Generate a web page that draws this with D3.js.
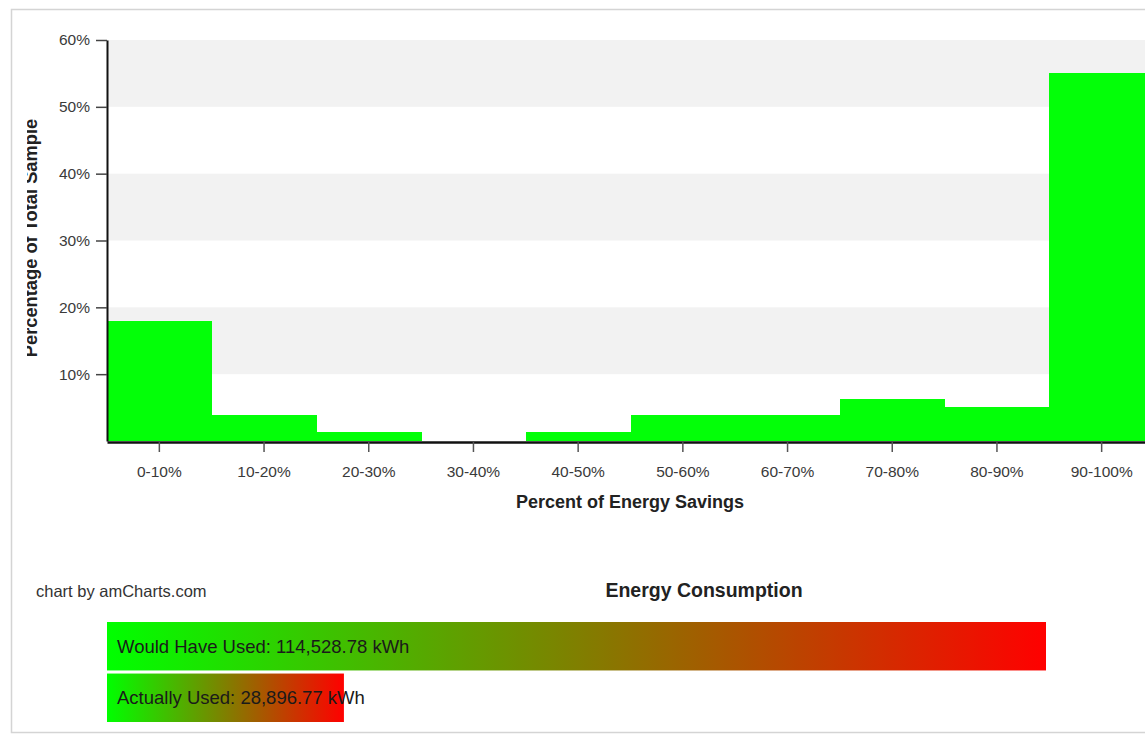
<!DOCTYPE html>
<html>
<head>
<meta charset="utf-8">
<script src="https://cdn.jsdelivr.net/npm/d3@7"></script>
<style>
  html, body { margin: 0; padding: 0; background: #fff; overflow: hidden; }
  svg { display: block; font-family: "Liberation Sans", Arial, sans-serif; }
</style>
</head>
<body>
<svg id="chart" width="1145" height="735"></svg>
<script>
// ---- data ----
const categories = ["0-10%", "10-20%", "20-30%", "30-40%", "40-50%", "50-60%", "60-70%", "70-80%", "80-90%", "90-100%"];
const sharePct = [17.9, 3.85, 1.28, 0, 1.28, 3.85, 3.85, 6.3, 5.13, 55.0];
const yTickValues = [10, 20, 30, 40, 50, 60];
const energyLabels = ["Would Have Used", "Actually Used"];
const energyKWh = [114528.78, 28896.77];

// ---- layout ----
const svg = d3.select("#chart");
const plot = { left: 107, right: 1154, top: 40, bottom: 441 };

const x = d3.scaleBand().domain(categories).range([plot.left, plot.right]).padding(0);
const y = d3.scaleLinear().domain([0, 60]).range([plot.bottom, plot.top]);

// frame
svg.append("rect").attr("x", 11.5).attr("y", 9.5).attr("width", 1200).attr("height", 723)
  .attr("fill", "none").attr("stroke", "#d4d4d4").attr("stroke-width", 1.5);

// alternating bands
svg.append("g").selectAll("rect").data(yTickValues.filter((d, i) => i % 2 === 0))
  .join("rect")
  .attr("x", plot.left).attr("width", plot.right - plot.left)
  .attr("y", d => y(d + 10)).attr("height", d => y(d) - y(d + 10))
  .attr("fill", "#f2f2f2");

// bars
svg.append("g").attr("shape-rendering", "crispEdges").selectAll("rect").data(categories)
  .join("rect")
  .attr("x", d => x(d)).attr("width", x.bandwidth() + 0.6)
  .attr("y", (d, i) => y(sharePct[i])).attr("height", (d, i) => y(0) - y(sharePct[i]))
  .attr("fill", "#03ff08");

// y axis
const yAxis = svg.append("g").attr("transform", `translate(${plot.left},0)`)
  .call(d3.axisLeft(y).tickValues(yTickValues).tickFormat(d => d + "%").tickSize(11).tickSizeOuter(0).tickPadding(6));
yAxis.select(".domain").attr("stroke", "#111").attr("stroke-width", 2);
yAxis.selectAll(".tick line").attr("stroke", "#444").attr("stroke-width", 1.5);
yAxis.selectAll(".tick text").attr("fill", "#3a3a3a").attr("font-size", 15.5)
  .attr("font-family", "'Liberation Sans', Arial, sans-serif").attr("dy", "0.32em");

// x axis
const xAxis = svg.append("g").attr("transform", `translate(0,${plot.bottom + 1})`)
  .call(d3.axisBottom(x).tickSize(10).tickSizeOuter(0).tickPadding(14));
xAxis.select(".domain").attr("stroke", "#111").attr("stroke-width", 2.5);
xAxis.selectAll(".tick line").attr("stroke", "#555").attr("stroke-width", 1.5);
xAxis.selectAll(".tick text").attr("fill", "#3a3a3a").attr("font-size", 15.5)
  .attr("font-family", "'Liberation Sans', Arial, sans-serif");

// axis titles
svg.append("text").attr("x", 630).attr("y", 508).attr("text-anchor", "middle")
  .attr("font-weight", "bold").attr("font-size", 18).attr("fill", "#222")
  .text("Percent of Energy Savings");

svg.append("clipPath").attr("id", "yclip").append("rect")
  .attr("x", 27).attr("y", 0).attr("width", 80).attr("height", 735);
svg.append("g").attr("clip-path", "url(#yclip)")
  .append("text").attr("transform", "translate(37,238) rotate(-90)")
  .attr("text-anchor", "middle").attr("font-weight", "bold").attr("font-size", 18.3).attr("fill", "#222")
  .text("Percentage of Total Sample");

// credit + title
svg.append("text").attr("x", 36).attr("y", 597).attr("font-size", 16.5).attr("fill", "#333")
  .text("chart by amCharts.com");
svg.append("text").attr("x", 704).attr("y", 597).attr("text-anchor", "middle")
  .attr("font-weight", "bold").attr("font-size", 19.5).attr("fill", "#222")
  .text("Energy Consumption");

// energy consumption bars
const ex = d3.scaleLinear().domain([0, energyKWh[0]]).range([0, 939]);
const ey = d3.scaleBand().domain(energyLabels).range([622, 722]).paddingInner(0.06);

const defs = svg.append("defs");
const grad = defs.append("linearGradient").attr("id", "gr").attr("x1", "0").attr("x2", "1").attr("y1", "0").attr("y2", "0");
grad.append("stop").attr("offset", "0").attr("stop-color", "#00ff00");
grad.append("stop").attr("offset", "1").attr("stop-color", "#ff0000");

const fmt = d3.format(",.2f");
const eg = svg.append("g");
eg.selectAll("rect").data(energyLabels).join("rect")
  .attr("x", plot.left).attr("y", d => ey(d))
  .attr("width", (d, i) => ex(energyKWh[i])).attr("height", ey.bandwidth())
  .attr("fill", "url(#gr)");
eg.selectAll("text").data(energyLabels).join("text")
  .attr("x", plot.left + 10).attr("y", d => ey(d) + ey.bandwidth() / 2)
  .attr("dy", "0.36em").attr("font-size", 18.5).attr("fill", "#1a1a1a")
  .text((d, i) => `${d}: ${fmt(energyKWh[i])} kWh`);
</script>
</body>
</html>
